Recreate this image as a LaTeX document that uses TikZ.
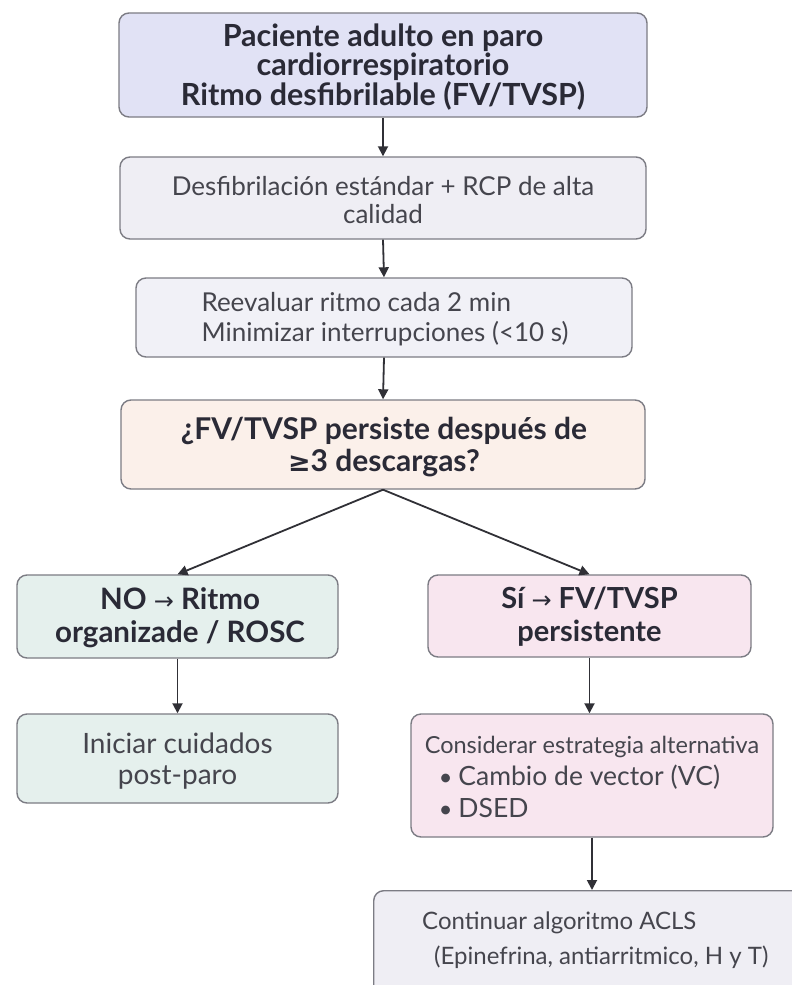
\documentclass[tikz,border=0pt]{standalone}
\usepackage{fontspec}
\setmainfont{Lato}
\newfontfamily\symf{DejaVu Sans}
\usetikzlibrary{arrows.meta}
\definecolor{bordc}{HTML}{7C7C84}
\definecolor{txtb}{HTML}{2A2A36}
\definecolor{txtr}{HTML}{45454D}
\definecolor{lav}{HTML}{E1E2F5}
\definecolor{grayl}{HTML}{EFEEF4}
\definecolor{grayl2}{HTML}{F1F1F7}
\definecolor{peach}{HTML}{FBF0EA}
\definecolor{mint}{HTML}{E5F0ED}
\definecolor{pinkl}{HTML}{F8E6EF}
\definecolor{arrc}{HTML}{303036}
\begin{document}
\begin{tikzpicture}[x=1pt,y=-1pt,
  boxbase/.style={draw=bordc, line width=1.4pt, rounded corners=10pt, inner sep=0pt, anchor=center},
  boldtxt/.style={font=\fontsize{30.5}{29.5}\selectfont\bfseries, text=txtb, align=center, inner sep=0pt},
  regtxt/.style={font=\fontsize{26}{28}\selectfont, text=txtr, align=center, inner sep=0pt},
  arr/.style={draw=arrc, line width=1.8pt, -{Triangle[length=10pt,width=10pt]}}]
\useasboundingbox (0,0) rectangle (792,985);
\fill[white] (0,0) rectangle (792,985);

\node[boxbase, fill=lav, minimum width=528pt, minimum height=104pt] (b1) at (383,65) {};
\node[boldtxt] (t1) at (383,67) {Paciente adulto en paro\\cardiorrespiratorio\\Ritmo desfibrilable (FV/TVSP)};

\node[boxbase, fill=grayl, minimum width=526pt, minimum height=82pt] (b2) at (383,198) {};
\node[regtxt] (t2) at (383,200) {Desfibrilación estándar + RCP de alta\\calidad};

\node[boxbase, fill=grayl2, minimum width=496pt, minimum height=79pt] (b3) at (384,317.5) {};
\node[regtxt, align=left, font=\fontsize{26}{30}\selectfont] (t3) at (385,319) {Reevaluar ritmo cada 2 min\\Minimizar interrupciones (<10 s)};

\node[boxbase, fill=peach, minimum width=524pt, minimum height=89pt] (b4) at (383,444.5) {};
\node[boldtxt, font=\fontsize{30}{32}\selectfont\bfseries] (t4) at (384,447) {¿FV/TVSP persiste después de\\{\symf\bfseries\fontsize{27}{32}\selectfont ≥}3 descargas?};

\node[boxbase, fill=mint, minimum width=321pt, minimum height=83pt] (b5) at (177.5,616.5) {};
\node[boldtxt, font=\fontsize{29.5}{33}\selectfont\bfseries] (t5) at (180,618) {NO {\symf\mdseries\fontsize{24}{33}\selectfont →} Ritmo\\organizade / ROSC};

\node[boxbase, fill=mint, minimum width=321pt, minimum height=89pt] (b6) at (177.5,758.5) {};
\node[regtxt, font=\fontsize{28}{31}\selectfont] (t6) at (177.5,761) {Iniciar cuidados\\post-paro};

\node[boxbase, fill=pinkl, minimum width=323pt, minimum height=82pt] (b7) at (589.5,616) {};
\node[boldtxt, font=\fontsize{29}{33}\selectfont\bfseries] (t7) at (589.5,617) {Sí {\symf\mdseries\fontsize{24}{33}\selectfont →} FV/TVSP\\persistente};

\node[boxbase, fill=pinkl, minimum width=362pt, minimum height=123pt] (b8) at (592,775.5) {};
\node[regtxt, align=left, font=\fontsize{23.5}{32}\selectfont] (t8) at (592,777) {Considerar estrategia alternativa\\\hspace*{14pt}\textbullet\ {\fontsize{26.5}{32}\selectfont Cambio de vector (VC)}\\\hspace*{14pt}\textbullet\ {\fontsize{26.5}{32}\selectfont DSED}};

\node[boxbase, fill=grayl, minimum width=440pt, minimum height=120pt, anchor=north west] (b9) at (373,890) {};
\node[regtxt, align=left, anchor=north west, font=\fontsize{24}{35}\selectfont] (t9) at (422,912) {Continuar algoritmo ACLS\\\hspace*{12pt}(Epinefrina, antiarritmico, H y T)};

\draw[arr] (b1.south) -- (b2.north);
\draw[arr] (b2.south) -- (b3.north);
\draw[arr] (b3.south) -- (b4.north);
\draw[arr] (b4.south) -- (b5.north);
\draw[arr] (b4.south) -- (b7.north);
\draw[arr] (b5.south) -- (b6.north);
\draw[arr] (b7.south) -- (b7.south |- b8.north);
\draw[arr] (b8.south) -- (b8.south |- b9.north);
\end{tikzpicture}
\end{document}
